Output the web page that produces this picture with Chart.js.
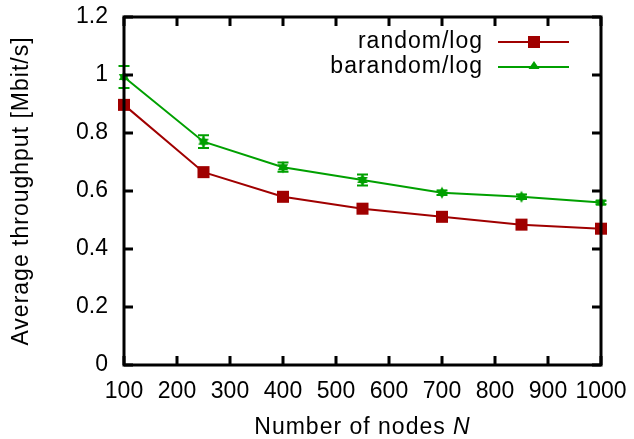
<!DOCTYPE html>
<html>
<head>
<meta charset="utf-8">
<script src="https://cdn.jsdelivr.net/npm/chart.js@4.4.1/dist/chart.umd.min.js"></script>
<style>
    html, body { margin: 0; padding: 0; background: #fff; }
    #chart { display: block; }
</style>
</head>
<body>
<canvas id="chart" width="634" height="439"></canvas>
<script>
// Data
const nodes = [100, 250, 400, 550, 700, 850, 1000];
const randomLog = [0.897, 0.665, 0.580, 0.539, 0.511, 0.484, 0.470];
const barandomLog = [0.993, 0.770, 0.682, 0.638, 0.594, 0.580, 0.560];
const barandomErr = [0.038, 0.022, 0.016, 0.019, 0.008, 0.008, 0.006];

const xTicks = [100, 200, 300, 400, 500, 600, 700, 800, 900, 1000];
const yTicks = [0, 0.2, 0.4, 0.6, 0.8, 1, 1.2];
const yTickLabels = ['0', '0.2', '0.4', '0.6', '0.8', '1', '1.2'];

const RED = '#a00000';
const GREEN = '#00a000';
const FONT = '"Liberation Sans", Arial, Helvetica, sans-serif';

Chart.defaults.font.family = FONT;
Chart.defaults.color = '#000';

// six-pointed marker used for the barandom points
function makeStar(color, r) {
    const c = document.createElement('canvas');
    const s = Math.ceil(r * 2 + 2);
    c.width = c.height = s;
    const g = c.getContext('2d');
    g.fillStyle = color;
    [-Math.PI / 2, Math.PI / 2].forEach(a0 => {
        g.beginPath();
        for (let k = 0; k < 3; k++) {
            const a = a0 + k * 2 * Math.PI / 3;
            g.lineTo(s / 2 + r * Math.cos(a), s / 2 + r * Math.sin(a));
        }
        g.closePath();
        g.fill();
    });
    return c;
}

// y error bars for the barandom series
const errorBars = {
    id: 'errorBars',
    afterDatasetsDraw(chart) {
        const ctx = chart.ctx;
        const y = chart.scales.y;
        const meta = chart.getDatasetMeta(1);
        ctx.save();
        ctx.strokeStyle = GREEN;
        ctx.lineWidth = 2;
        meta.data.forEach((pt, i) => {
            const top = y.getPixelForValue(barandomLog[i] + barandomErr[i]);
            const bot = y.getPixelForValue(barandomLog[i] - barandomErr[i]);
            ctx.beginPath();
            ctx.moveTo(pt.x, top); ctx.lineTo(pt.x, bot);
            ctx.moveTo(pt.x - 5.5, top); ctx.lineTo(pt.x + 5.5, top);
            ctx.moveTo(pt.x - 5.5, bot); ctx.lineTo(pt.x + 5.5, bot);
            ctx.stroke();
        });
        ctx.restore();
    }
};

// gnuplot style frame with inward ticks, drawn over the data
const frame = {
    id: 'frame',
    afterDatasetsDraw(chart) {
        const ctx = chart.ctx;
        const a = chart.chartArea;
        const xs = chart.scales.x, ys = chart.scales.y;
        const len = 9;
        ctx.save();
        ctx.strokeStyle = '#000';
        ctx.lineWidth = 3;
        ctx.beginPath();
        xTicks.forEach(v => {
            const px = xs.getPixelForValue(v);
            ctx.moveTo(px, a.bottom); ctx.lineTo(px, a.bottom - len);
            ctx.moveTo(px, a.top); ctx.lineTo(px, a.top + len);
        });
        yTicks.forEach(v => {
            const py = ys.getPixelForValue(v);
            ctx.moveTo(a.left, py); ctx.lineTo(a.left + len, py);
            ctx.moveTo(a.right, py); ctx.lineTo(a.right - len, py);
        });
        ctx.stroke();
        ctx.strokeRect(a.left, a.top, a.right - a.left, a.bottom - a.top);
        ctx.restore();
    }
};

// legend: right aligned text, then line sample with marker
const keyBox = {
    id: 'keyBox',
    afterDraw(chart) {
        const ctx = chart.ctx;
        const rows = [
            { text: 'random/log', color: RED, marker: 'square', y: 42 },
            { text: 'barandom/log', color: GREEN, marker: 'triangle', y: 67 }
        ];
        ctx.save();
        ctx.font = '23px ' + FONT;
        ctx.letterSpacing = '1px';
        ctx.textAlign = 'right';
        ctx.textBaseline = 'middle';
        rows.forEach(r => {
            ctx.fillStyle = '#000';
            ctx.fillText(r.text, 483, r.y);
            ctx.strokeStyle = r.color;
            ctx.lineWidth = 2;
            ctx.beginPath();
            ctx.moveTo(498, r.y); ctx.lineTo(569, r.y);
            ctx.stroke();
            ctx.fillStyle = r.color;
            if (r.marker === 'square') {
                ctx.fillRect(534 - 6, r.y - 6, 12, 12);
            } else {
                ctx.beginPath();
                ctx.moveTo(534, r.y - 6);
                ctx.lineTo(539.5, r.y + 2);
                ctx.lineTo(528.5, r.y + 2);
                ctx.closePath();
                ctx.fill();
            }
        });
        ctx.restore();
    }
};

// axis titles (x title has an italic N)
const axisTitles = {
    id: 'axisTitles',
    afterDraw(chart) {
        const ctx = chart.ctx;
        const a = chart.chartArea;
        const plain = 'Number of nodes ';
        const ital = 'N';
        ctx.save();
        ctx.letterSpacing = '1px';
        ctx.textBaseline = 'alphabetic';
        ctx.textAlign = 'left';
        ctx.fillStyle = '#000';
        ctx.font = '23px ' + FONT;
        const w1 = ctx.measureText(plain).width;
        ctx.font = 'italic 23px ' + FONT;
        const w2 = ctx.measureText(ital).width;
        const x0 = (a.left + a.right) / 2 - (w1 + w2) / 2;
        ctx.font = '23px ' + FONT;
        ctx.fillText(plain, x0, 434);
        ctx.font = 'italic 23px ' + FONT;
        ctx.fillText(ital, x0 + w1, 434);

        ctx.font = '23px ' + FONT;
        ctx.textAlign = 'center';
        ctx.textBaseline = 'middle';
        ctx.translate(22, (a.top + a.bottom) / 2);
        ctx.rotate(-Math.PI / 2);
        ctx.fillText('Average throughput [Mbit/s]', 0, 0);
        ctx.restore();
    }
};

new Chart(document.getElementById('chart'), {
    type: 'line',
    data: {
        datasets: [{
            label: 'random/log',
            data: nodes.map((n, i) => ({ x: n, y: randomLog[i] })),
            borderColor: RED,
            backgroundColor: RED,
            borderWidth: 2,
            pointStyle: 'rect',
            pointRadius: 8.5,
            pointBorderWidth: 0,
            clip: false
        }, {
            label: 'barandom/log',
            data: nodes.map((n, i) => ({ x: n, y: barandomLog[i] })),
            borderColor: GREEN,
            backgroundColor: GREEN,
            borderWidth: 2,
            pointStyle: makeStar(GREEN, 6),
            pointRadius: 6,
            clip: false
        }]
    },
    options: {
        responsive: false,
        animation: false,
        layout: { padding: { left: 0, right: 33, top: 17, bottom: 0 } },
        plugins: {
            legend: { display: false },
            tooltip: { enabled: false }
        },
        scales: {
            x: {
                type: 'linear',
                min: 100,
                max: 1000,
                grid: { display: false, drawTicks: false },
                border: { display: false },
                afterBuildTicks: s => { s.ticks = xTicks.map(v => ({ value: v })); },
                afterFit: s => {
                    s.height = 74;
                    s.paddingLeft = 0;
                    s.paddingRight = 0;
                },
                ticks: {
                    font: { size: 23 },
                    padding: 13,
                    maxRotation: 0,
                    autoSkip: false,
                    callback: v => String(v)
                }
            },
            y: {
                min: 0,
                max: 1.2,
                grid: { display: false, drawTicks: false },
                border: { display: false },
                afterBuildTicks: s => { s.ticks = yTicks.map(v => ({ value: v })); },
                afterFit: s => {
                    s.width = 124;
                    s.paddingTop = 0;
                    s.paddingBottom = 0;
                },
                ticks: {
                    font: { size: 23 },
                    padding: 16,
                    callback: (v, i) => yTickLabels[i]
                }
            }
        }
    },
    plugins: [errorBars, frame, keyBox, axisTitles]
});
</script>
</body>
</html>
